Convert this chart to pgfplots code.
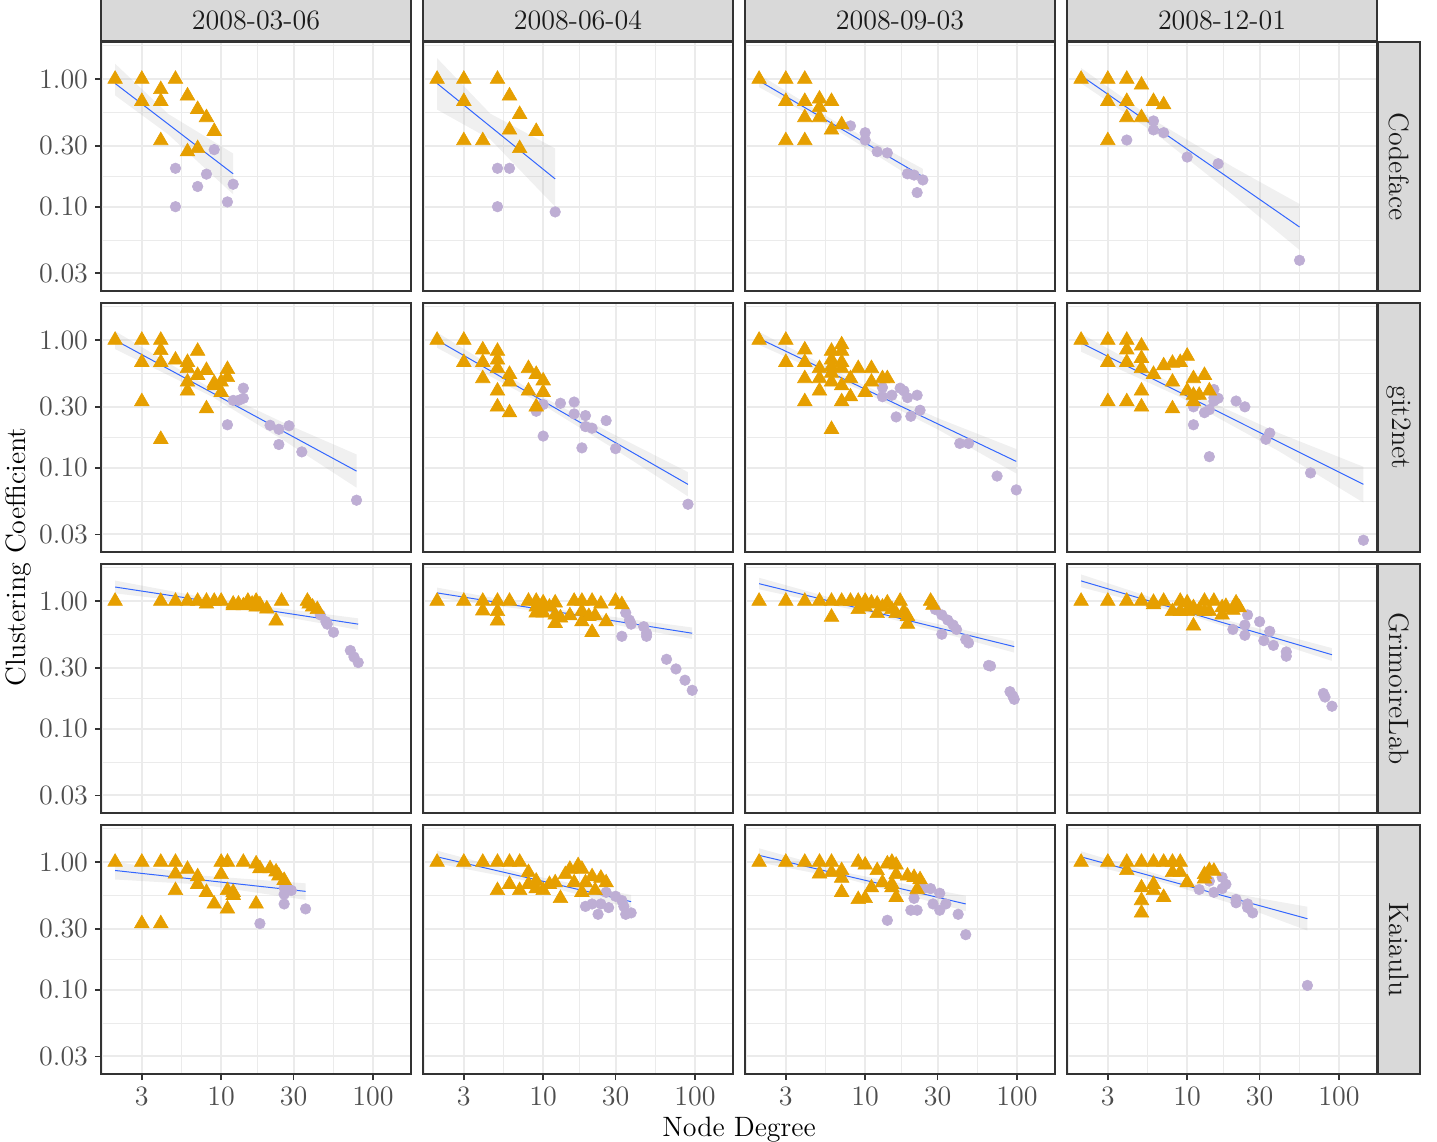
\documentclass[border=0pt]{standalone}
\usepackage{fontspec}
\usepackage{pgfplots}
\pgfplotsset{compat=1.18}
\definecolor{tri}{HTML}{E69F00}
\definecolor{cir}{HTML}{BEAED4}
\definecolor{smoothc}{HTML}{3366FF}
\definecolor{gridc}{HTML}{EBEBEB}
\definecolor{g20}{HTML}{333333}
\definecolor{g30}{HTML}{4D4D4D}
\definecolor{g10}{HTML}{1A1A1A}
\definecolor{stripc}{HTML}{D9D9D9}
\newcommand{\fs}{\fontsize{14}{16.8}\selectfont}
\pgfplotsset{
  every axis/.append style={
    xmode=log, ymode=log,
    width=155pt, height=124.5pt, scale only axis,
    xmin=1.615, xmax=178.2, ymin=0.02183, ymax=1.954,
    xtick={3,10,30,100},
    ytick={0.03,0.1,0.3,1},
    minor xtick={1.643,5.477,17.32,54.77},
    minor ytick={0.05477,0.1732,0.5477,1.826},
    grid=both,
    major grid style={draw=gridc, line width=1.0pt},
    minor grid style={draw=gridc, line width=0.5pt},
    axis line style={draw=g20, line width=0.9pt},
    tick style={draw=g20, line width=0.9pt},
    major tick length=3pt, minor tick length=0pt,
    tick align=outside, xtick pos=left, ytick pos=left,
    ticklabel style={font=\fs, text=g30},
    clip mode=individual,
    anchor=north west,
  },
  bandst/.style={fill=gray!60, fill opacity=0.2, draw=none},
  linest/.style={draw=smoothc, line width=0.5pt},
  trist/.style={only marks, mark=triangle*, mark size=4.2pt, color=tri, mark options={line width=0.3pt}},
  cirst/.style={only marks, mark=*, mark size=2.65pt, color=cir, mark options={line width=0.3pt}},
}
\tikzset{
  topstrip/.style={fill=stripc, draw=g20, line width=0.9pt, minimum width=155pt, minimum height=21pt, inner sep=0pt, anchor=south, font=\fs, text=g10},
  rightstrip/.style={fill=stripc, draw=g20, line width=0.9pt, minimum width=124.5pt, minimum height=21pt, inner sep=0pt, rotate=-90, anchor=south, font=\fs, text=g10},
}
\begin{document}
\begin{tikzpicture}
\path[use as bounding box] (0,0) rectangle (718.5pt,-571pt);
% ---------------- Row 1: Codeface
\begin{axis}[xticklabels={}, xtick style={draw=none}, yticklabels={0.03,0.10,0.30,1.00}, at={(50.5pt,-21pt)}]
\addplot[bandst] coordinates {(2,1.32) (4.48,0.533) (12,0.261) (12,0.125) (4.48,0.369) (2,0.746)};
\addplot[linest] coordinates {(2,0.925) (12,0.181)};
\addplot[cirst] coordinates {(9,0.28) (5,0.2) (8,0.18) (7,0.144) (12,0.15) (5,0.1) (11,0.109)};
\addplot[trist] coordinates {(2,1) (3,1) (5,1) (4,0.83) (3,0.67) (4,0.67) (6,0.74) (7,0.58) (8,0.5) (9,0.39) (4,0.33) (6,0.27) (7,0.286)};
\node[topstrip] at (rel axis cs:0.5,1) {2008-03-06};
\end{axis}
\begin{axis}[xticklabels={}, xtick style={draw=none}, yticklabels={}, ytick style={draw=none}, at={(211.5pt,-21pt)}]
\addplot[bandst] coordinates {(2,1.459) (4.48,0.536) (12,0.286) (12,0.100) (4.48,0.338) (2,0.577)};
\addplot[linest] coordinates {(2,0.925) (12,0.165)};
\addplot[cirst] coordinates {(5,0.2) (6,0.2) (5,0.1) (12,0.091)};
\addplot[trist] coordinates {(2,1) (3,1) (5,1) (6,0.74) (3,0.67) (7,0.53) (6,0.40) (9,0.39) (3,0.33) (4,0.33) (7,0.286)};
\node[topstrip] at (rel axis cs:0.5,1) {2008-06-04};
\end{axis}
\begin{axis}[xticklabels={}, xtick style={draw=none}, yticklabels={}, ytick style={draw=none}, at={(372.5pt,-21pt)}]
\addplot[bandst] coordinates {(2,1.089) (6.12,0.478) (24,0.198) (24,0.150) (6.12,0.416) (2,0.865)};
\addplot[linest] coordinates {(2,0.97) (24,0.172)};
\addplot[cirst] coordinates {(8,0.43) (10,0.38) (10,0.333) (12,0.27) (14,0.264) (19,0.181) (21,0.177) (24,0.162) (22,0.129)};
\addplot[trist] coordinates {(2,1) (3,1) (4,1) (3,0.67) (4,0.67) (5,0.7) (6,0.67) (5,0.6) (4,0.5) (5,0.5) (7,0.44) (6,0.4) (3,0.33) (4,0.33)};
\node[topstrip] at (rel axis cs:0.5,1) {2008-09-03};
\end{axis}
\begin{axis}[xticklabels={}, xtick style={draw=none}, yticklabels={}, ytick style={draw=none}, at={(533.5pt,-21pt)}]
\addplot[bandst] coordinates {(2,1.222) (6.38,0.459) (20.3,0.203) (55,0.105) (55,0.0458) (20.3,0.122) (6.38,0.365) (2,0.927)};
\addplot[linest] coordinates {(2,1.064) (55,0.0693)};
\addplot[cirst] coordinates {(6,0.47) (6,0.40) (7,0.38) (4,0.333) (10,0.245) (16,0.217) (55,0.038)};
\addplot[trist] coordinates {(2,1) (3,1) (4,1) (5,0.9) (3,0.67) (4,0.67) (6,0.67) (7,0.63) (4,0.5) (5,0.5) (3,0.33)};
\node[topstrip] at (rel axis cs:0.5,1) {2008-12-01};
\node[rightstrip] at (rel axis cs:1,0.5) {Codeface};
\end{axis}
% ---------------- Row 2: git2net
\begin{axis}[xticklabels={}, xtick style={draw=none}, yticklabels={0.03,0.10,0.30,1.00}, at={(50.5pt,-151.5pt)}]
\addplot[bandst] coordinates {(2,1.175) (8.65,0.416) (26,0.224) (78,0.127) (78,0.0697) (26,0.163) (8.65,0.362) (2,0.851)};
\addplot[linest] coordinates {(2,1) (78,0.094)};
\addplot[cirst] coordinates {(14,0.42) (14,0.35) (12,0.337) (13,0.337) (11,0.217) (21,0.215) (24,0.2) (28,0.213) (24,0.152) (34,0.133) (78,0.0556)};
\addplot[trist] coordinates {(2,1) (3,1) (4,1) (4,0.83) (7,0.82) (3,0.67) (4,0.67) (5,0.7) (6,0.67) (6,0.6) (8,0.58) (11,0.59) (6,0.47) (7,0.53) (11,0.51) (10,0.47) (9,0.44) (6,0.4) (10,0.39) (9,0.46) (3,0.33) (8,0.29) (4,0.167)};
\end{axis}
\begin{axis}[xticklabels={}, xtick style={draw=none}, yticklabels={}, ytick style={draw=none}, at={(211.5pt,-151.5pt)}]
\addplot[bandst] coordinates {(2,1.148) (9.17,0.378) (28.7,0.184) (90,0.0923) (90,0.0596) (28.7,0.143) (9.17,0.330) (2,0.871)};
\addplot[linest] coordinates {(2,1) (90,0.074)};
\addplot[cirst] coordinates {(10,0.313) (9,0.277) (13,0.32) (16,0.327) (16,0.264) (19,0.256) (19,0.21) (21,0.204) (26,0.234) (10,0.177) (18,0.143) (30,0.141) (90,0.0517)};
\addplot[trist] coordinates {(2,1) (3,1) (3,0.67) (4,0.84) (4,0.67) (5,0.82) (5,0.7) (5,0.6) (4,0.5) (6,0.54) (6,0.47) (5,0.4) (8,0.6) (9,0.54) (10,0.48) (8,0.4) (10,0.39) (5,0.3) (6,0.27) (9,0.3)};
\end{axis}
\begin{axis}[xticklabels={}, xtick style={draw=none}, yticklabels={}, ytick style={draw=none}, at={(372.5pt,-151.5pt)}]
\addplot[bandst] coordinates {(2,1.156) (9.53,0.450) (30.7,0.242) (99,0.140) (99,0.0902) (30.7,0.197) (9.53,0.401) (2,0.918)};
\addplot[linest] coordinates {(2,1.03) (99,0.112)};
\addplot[cirst] coordinates {(13,0.425) (13,0.36) (15,0.37) (17,0.42) (18,0.40) (19,0.354) (22,0.37) (23,0.282) (16,0.25) (20,0.253) (42,0.155) (48,0.155) (74,0.086) (99,0.067)};
\addplot[trist] coordinates {(2,1) (3,1) (4,0.84) (3,0.67) (4,0.67) (4,0.5) (4,0.33) (5,0.6) (5,0.5) (5,0.4) (6,0.82) (6,0.7) (6,0.62) (6,0.55) (6,0.47) (7,0.92) (7,0.82) (7,0.67) (7,0.6) (7,0.44) (7,0.33) (8,0.5) (8,0.36) (9,0.6) (10,0.39) (11,0.6) (11,0.47) (13,0.5) (14,0.5) (6,0.2)};
\end{axis}
\begin{axis}[xticklabels={}, xtick style={draw=none}, yticklabels={}, ytick style={draw=none}, at={(533.5pt,-151.5pt)}]
\addplot[bandst] coordinates {(2,1.119) (8.95,0.422) (40.1,0.187) (145,0.1016) (145,0.0533) (40.1,0.135) (8.95,0.359) (2,0.811)};
\addplot[linest] coordinates {(2,0.95) (145,0.074)};
\addplot[cirst] coordinates {(15,0.41) (15,0.354) (16,0.35) (15,0.333) (21,0.333) (24,0.3) (11,0.3) (14,0.285) (13,0.27) (11,0.217) (35,0.187) (33,0.167) (14,0.122) (65,0.091) (145,0.027)};
\addplot[trist] coordinates {(2,1) (3,1) (4,1) (4,0.84) (5,0.9) (3,0.67) (4,0.67) (5,0.72) (5,0.6) (6,0.54) (7,0.63) (8,0.66) (9,0.67) (10,0.75) (8,0.47) (11,0.5) (13,0.53) (5,0.4) (10,0.4) (11,0.37) (12,0.37) (11,0.33) (3,0.33) (4,0.33) (5,0.3) (8,0.29) (14,0.4)};
\node[rightstrip] at (rel axis cs:1,0.5) {git2net};
\end{axis}
% ---------------- Row 3: GrimoireLab
\begin{axis}[xticklabels={}, xtick style={draw=none}, yticklabels={0.03,0.10,0.30,1.00}, at={(50.5pt,-282pt)}]
\addplot[bandst] coordinates {(2,1.449) (10.5,1.0) (80,0.733) (80,0.596) (10.5,0.912) (2,1.151)};
\addplot[linest] coordinates {(2,1.29) (80,0.66)};
\addplot[cirst] coordinates {(45,0.78) (49,0.69) (50,0.66) (55,0.57) (71,0.41) (75,0.365) (80,0.33)};
\addplot[trist] coordinates {(2,1) (4,1) (5,1) (6,1) (7,1) (8,1) (8,0.95) (9,1) (10,1) (12,0.95) (12,0.92) (13,0.95) (14,0.92) (15,1) (16,0.95) (17,1) (18,0.94) (17,0.9) (20,0.87) (23,0.7) (25,1) (37,1) (38,0.95) (40,0.9) (43,0.86)};
\end{axis}
\begin{axis}[xticklabels={}, xtick style={draw=none}, yticklabels={}, ytick style={draw=none}, at={(211.5pt,-282pt)}]
\addplot[bandst] coordinates {(2,1.276) (11.4,0.873) (96,0.621) (96,0.505) (11.4,0.804) (2,1.062)};
\addplot[linest] coordinates {(2,1.16) (96,0.56)};
\addplot[cirst] coordinates {(35,0.81) (37,0.71) (38,0.66) (33,0.53) (46,0.63) (48,0.56) (48,0.53) (65,0.35) (75,0.294) (86,0.24) (96,0.2)};
\addplot[trist] coordinates {(2,1) (3,1) (4,1) (5,1) (6,1) (4,0.84) (5,0.83) (5,0.7) (8,1) (9,1) (9,0.9) (10,0.97) (11,0.9) (10,0.81) (12,0.78) (12,0.97) (13,0.74) (12,0.67) (15,0.77) (16,1) (18,1) (18,0.83) (18,0.69) (21,1) (20,0.76) (21,0.57) (22,0.77) (24,0.95) (26,0.69) (30,1) (33,0.94) (9,0.81)};
\end{axis}
\begin{axis}[xticklabels={}, xtick style={draw=none}, yticklabels={}, ytick style={draw=none}, at={(372.5pt,-282pt)}]
\addplot[bandst] coordinates {(2,1.524) (11.4,0.857) (96,0.486) (96,0.395) (11.4,0.789) (2,1.239)};
\addplot[linest] coordinates {(2,1.37) (96,0.44)};
\addplot[cirst] coordinates {(29,0.86) (32,0.78) (35,0.71) (38,0.65) (40,0.6) (32,0.55) (46,0.5) (48,0.47) (65,0.313) (67,0.31) (90,0.195) (94,0.18) (96,0.17)};
\addplot[trist] coordinates {(2,1) (3,1) (4,1) (5,1) (6,1) (6,0.75) (7,1) (8,1) (9,1) (10,1) (9,0.86) (11,0.97) (12,0.95) (12,0.8) (14,0.97) (15,0.86) (16,0.8) (17,1) (18,0.83) (19,0.76) (19,0.66) (27,1) (28,0.93) (13,0.9) (10,0.9)};
\end{axis}
\begin{axis}[xticklabels={}, xtick style={draw=none}, yticklabels={}, ytick style={draw=none}, at={(533.5pt,-282pt)}]
\addplot[bandst] coordinates {(2,1.618) (11.1,0.830) (90,0.428) (90,0.340) (11.1,0.757) (2,1.285)};
\addplot[linest] coordinates {(2,1.44) (90,0.38)};
\addplot[cirst] coordinates {(25,0.78) (30,0.69) (24,0.65) (20,0.6) (24,0.54) (35,0.58) (32,0.49) (37,0.45) (45,0.4) (45,0.37) (79,0.189) (81,0.177) (90,0.15)};
\addplot[trist] coordinates {(2,1) (3,1) (4,1) (5,1) (6,0.98) (7,1) (6,0.94) (9,1) (9,0.83) (10,0.97) (10,0.83) (11,0.89) (11,0.64) (13,1) (13,0.83) (15,1) (14,0.83) (17,0.89) (17,0.78) (18,0.91) (21,0.97) (22,0.89) (8,0.83) (12,0.85) (20,0.85)};
\node[rightstrip] at (rel axis cs:1,0.5) {GrimoireLab};
\end{axis}
% ---------------- Row 4: Kaiaulu
\begin{axis}[xticklabels={3,10,30,100}, yticklabels={0.03,0.10,0.30,1.00}, at={(50.5pt,-412.5pt)}]
\addplot[bandst] coordinates {(2,1.009) (7.34,0.785) (36,0.682) (36,0.506) (7.34,0.668) (2,0.731)};
\addplot[linest] coordinates {(2,0.86) (36,0.59)};
\addplot[cirst] coordinates {(26,0.63) (28,0.61) (26,0.56) (26,0.47) (36,0.43) (18,0.33) (29,0.6)};
\addplot[trist] coordinates {(2,1) (3,1) (4,1) (5,1) (6,0.88) (5,0.81) (7,0.77) (7,0.67) (5,0.6) (8,0.58) (9,0.47) (10,1) (11,1) (10,0.8) (11,0.6) (12,0.58) (11,0.43) (14,1) (17,0.97) (18,0.89) (21,0.89) (23,0.84) (24,0.78) (26,0.72) (17,0.47) (3,0.33) (4,0.33) (12,0.55)};
\end{axis}
\begin{axis}[xticklabels={3,10,30,100}, yticklabels={}, ytick style={draw=none}, at={(211.5pt,-412.5pt)}]
\addplot[bandst] coordinates {(2,1.230) (7.53,0.807) (38,0.553) (38,0.434) (7.53,0.719) (2,0.977)};
\addplot[linest] coordinates {(2,1.1) (38,0.49)};
\addplot[cirst] coordinates {(26,0.58) (30,0.54) (33,0.5) (34,0.45) (35,0.39) (38,0.40) (27,0.44) (24,0.47) (21,0.47) (19,0.45) (23,0.39)};
\addplot[trist] coordinates {(2,1) (3,1) (4,1) (5,1) (6,1) (7,1) (5,0.6) (6,0.67) (7,0.6) (8,0.83) (8,0.67) (9,0.71) (10,0.6) (11,0.67) (12,0.69) (13,0.52) (14,0.8) (15,0.88) (16,0.69) (17,0.94) (18,0.88) (19,0.69) (18,0.58) (21,0.77) (22,0.6) (24,0.75) (26,0.69) (9,0.62)};
\end{axis}
\begin{axis}[xticklabels={3,10,30,100}, yticklabels={}, ytick style={draw=none}, at={(372.5pt,-412.5pt)}]
\addplot[bandst] coordinates {(2,1.282) (8.2,0.809) (46,0.545) (46,0.413) (8.2,0.721) (2,0.995)};
\addplot[linest] coordinates {(2,1.13) (46,0.47)};
\addplot[cirst] coordinates {(24,0.62) (27,0.62) (31,0.57) (21,0.52) (28,0.47) (34,0.47) (31,0.42) (20,0.42) (22,0.42) (41,0.39) (14,0.35) (46,0.27)};
\addplot[trist] coordinates {(2,1) (3,1) (4,1) (5,1) (6,1) (5,0.81) (6,0.83) (7,0.86) (7,0.75) (7,0.58) (9,1) (10,0.95) (9,0.51) (10,0.52) (11,0.63) (12,0.86) (13,0.69) (14,0.97) (15,1) (16,0.95) (16,0.8) (15,0.67) (15,0.63) (16,0.53) (19,0.78) (21,0.76) (23,0.73) (22,0.61)};
\end{axis}
\begin{axis}[xticklabels={3,10,30,100}, yticklabels={}, ytick style={draw=none}, at={(533.5pt,-412.5pt)}]
\addplot[bandst] coordinates {(2,1.216) (7.89,0.745) (26.3,0.535) (62,0.447) (62,0.291) (26.3,0.425) (7.89,0.664) (2,0.989)};
\addplot[linest] coordinates {(2,1.1) (62,0.36)};
\addplot[cirst] coordinates {(12,0.61) (14,0.71) (15,0.58) (17,0.76) (18,0.67) (17,0.62) (21,0.51) (21,0.48) (25,0.47) (25,0.44) (27,0.4) (62,0.108)};
\addplot[trist] coordinates {(2,1) (3,1) (4,1) (5,1) (6,1) (7,1) (8,1) (9,1) (4,0.86) (5,0.63) (5,0.5) (5,0.4) (6,0.67) (6,0.6) (7,0.53) (8,0.83) (9,0.83) (10,0.69) (13,0.8) (13,0.74) (14,0.86) (15,0.85)};
\node[rightstrip] at (rel axis cs:1,0.5) {Kaiaulu};
\end{axis}
% axis titles
\node[rotate=90, font=\fs, inner sep=0pt] at (9.5pt,-278.5pt) {Clustering Coefficient};
\node[font=\fs, inner sep=0pt, anchor=base] at (369.5pt,-568pt) {Node Degree};
\end{tikzpicture}
\end{document}
